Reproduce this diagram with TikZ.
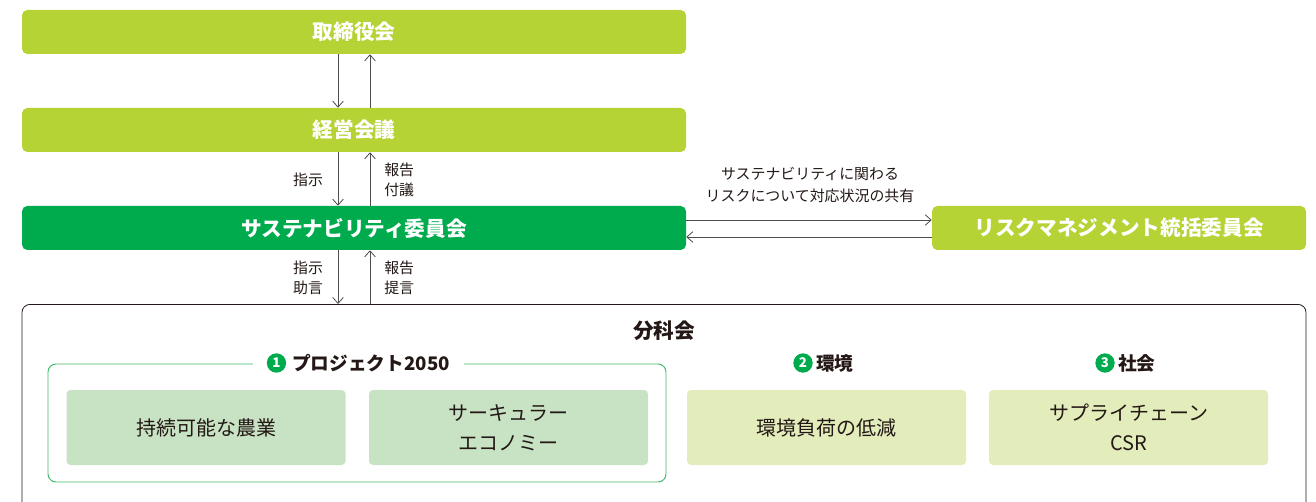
\documentclass[tikz,border=0pt]{standalone}
\usepackage{fontspec}
\setmainfont{Noto Sans CJK JP}
\usetikzlibrary{arrows.meta}
\definecolor{lime}{HTML}{B5D334}
\definecolor{sgreen}{HTML}{00AB4E}
\definecolor{palegreen}{HTML}{C8E3C4}
\definecolor{palelime}{HTML}{E3EDBB}
\definecolor{framegreen}{HTML}{3DB86A}
\definecolor{arrgrey}{HTML}{4D4D4D}
\definecolor{txt}{HTML}{231815}
\begin{document}
\begin{tikzpicture}[x=0.75pt,y=-0.75pt,
  topbox/.style={rounded corners=4pt, minimum width=498pt, minimum height=33pt, text=white, font=\fontsize{15.5}{18}\selectfont\bfseries, inner sep=0pt},
  subbox/.style={rounded corners=3pt, minimum width=209.25pt, minimum height=56.25pt, text=txt, font=\fontsize{15}{22.5}\selectfont, align=center, inner sep=0pt},
  lbl/.style={text=txt, font=\fontsize{11.2}{15}\selectfont, inner sep=0pt},
  heading/.style={text=txt, font=\fontsize{14}{16}\selectfont\bfseries, inner sep=0pt},
  numc/.style={circle, fill=sgreen, text=white, minimum size=14.5pt, inner sep=0pt, font=\fontsize{10}{10}\selectfont\bfseries},
  arr/.style={draw=arrgrey, line width=0.6pt, -{Straight Barb[length=4.5pt,width=8pt]}}
]
\useasboundingbox (0,0) rectangle (1316,502);
\clip (0,0) rectangle (1316,502);
% main boxes
\node[topbox, fill=lime] (board) at (354,32) {取締役会};
\node[topbox, fill=lime] (mgmt) at (354,130) {経営会議};
\node[topbox, fill=sgreen] (sust) at (354,228) {サステナビリティ委員会};
\node[topbox, fill=lime, minimum width=280.5pt] (risk) at (1119,228) {リスクマネジメント統括委員会};
% subcommittee frame
\node[draw=txt, line width=0.6pt, rounded corners=6pt, minimum width=963pt, minimum height=180pt, anchor=north, inner sep=0pt] (bunka) at (664,304) {};
\node[heading, font=\fontsize{15.5}{17}\selectfont\bfseries] (bunkat) at (664,331) {分科会};
% group 1
\node[draw=framegreen, line width=0.7pt, rounded corners=6pt, minimum width=463.5pt, minimum height=88.5pt, inner sep=0pt] (g1box) at (357,423) {};
\node[heading, fill=white, inner xsep=10.5pt, inner ysep=2pt] (g1) at (358.5,363) {\hspace*{18.75pt}プロジェクト2050};
\node[numc] (n1) at ([xshift=17.6pt]g1.west) {1};
% group 2, 3 headings
\node[numc] (n2) at (803,363) {2};
\node[heading, anchor=west] (g2) at (816,363) {環境};
\node[numc] (n3) at (1105,363) {3};
\node[heading, anchor=west] (g3) at (1118,363) {社会};
% sub boxes
\node[subbox, fill=palegreen] (s1) at (206,427.5) {持続可能な農業};
\node[subbox, fill=palegreen] (s2) at (508.5,427.5) {サーキュラー\\エコノミー};
\node[subbox, fill=palelime] (s3) at (826.5,427.5) {環境負荷の低減};
\node[subbox, fill=palelime] (s4) at (1128.5,427.5) {サプライチェーン\\CSR};
% arrows
\draw[arr] ([xshift=-12pt]board.south) -- ([xshift=-12pt]mgmt.north);
\draw[arr] ([xshift=12pt]mgmt.north) -- ([xshift=12pt]board.south);
\draw[arr] ([xshift=-12pt]mgmt.south) -- ([xshift=-12pt]sust.north);
\draw[arr] ([xshift=12pt]sust.north) -- ([xshift=12pt]mgmt.south);
\draw[arr] ([xshift=-12pt]sust.south) -- ([xshift=-12pt]bunka.north -| sust.south);
\draw[arr] ([xshift=12pt]bunka.north -| sust.south) -- ([xshift=12pt]sust.south);
\draw[arr] ([yshift=6pt]sust.east) -- ([yshift=6pt]risk.west);
\draw[arr] ([yshift=-6.75pt]risk.west) -- ([yshift=-6.75pt]sust.east);
% labels
\node[lbl] (l1) at (308,180) {指示};
\node[lbl, anchor=west, align=left] (l2) at (384,180) {報告\\付議};
\node[lbl, align=center] (l3) at (308,278) {指示\\助言};
\node[lbl, anchor=west, align=left] (l4) at (384,278) {報告\\提言};
\node[lbl, align=center, font=\fontsize{11.2}{16.5}\selectfont] (l5) at (810,185) {サステナビリティに関わる\\リスクについて対応状況の共有};
\end{tikzpicture}
\end{document}
